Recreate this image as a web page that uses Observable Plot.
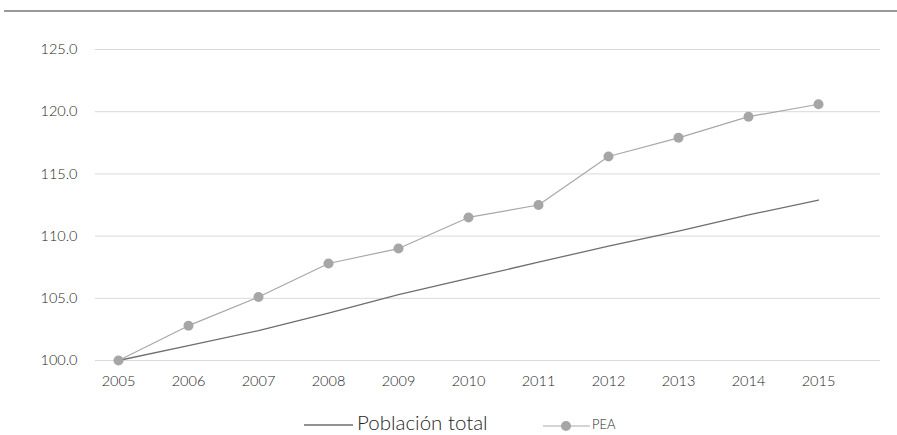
<!DOCTYPE html>
<html>
<head>
<meta charset="utf-8">
<script src="https://cdn.jsdelivr.net/npm/d3@7"></script>
<script src="https://cdn.jsdelivr.net/npm/@observablehq/plot@0.6"></script>
<style>
  html, body { margin: 0; padding: 0; background: #fff; }
  body { width: 897px; height: 435px; overflow: hidden; font-family: Lato, "Open Sans", sans-serif; font-weight: 300; }
  #topline { margin: 10px 0 0 4px; border-top: 2px solid #999; height: 0; }
  #legend { position: relative; height: 45px; }
  .leg { position: absolute; color: #262626; }
  .leg svg { position: absolute; left: 0; top: 0; }
  .leg span { position: absolute; white-space: nowrap; line-height: 1; }
</style>
</head>
<body>
<div id="topline"></div>
<div id="chart"></div>
<div id="legend">
  <div class="leg" style="left:304px; top:25px;">
    <svg width="50" height="20"><line x1="0" x2="49" y1="10" y2="10" stroke="#6e6e6e" stroke-width="1.3"/></svg>
    <span id="lab1" style="font-size:20.5px; left:53px; top:-3px;"></span>
  </div>
  <div class="leg" style="left:543px; top:26px;">
    <svg width="48" height="20"><line x1="0" x2="47" y1="10" y2="10" stroke="#a8a8a8" stroke-width="1.2"/><circle cx="23" cy="10" r="5" fill="#a6a6a8"/></svg>
    <span id="lab2" style="font-size:13px; left:49px; top:2px;"></span>
  </div>
</div>
<script>
const years = [2005, 2006, 2007, 2008, 2009, 2010, 2011, 2012, 2013, 2014, 2015];
const poblacionTotal = [100.0, 101.2, 102.4, 103.8, 105.3, 106.6, 107.9, 109.2, 110.4, 111.7, 112.9];
const pea = [100.0, 102.8, 105.1, 107.8, 109.0, 111.5, 112.5, 116.4, 117.9, 119.6, 120.6];
const yTicks = [100, 105, 110, 115, 120, 125];
const seriesNames = ["Población total", "PEA"];

document.getElementById("lab1").textContent = seriesNames[0];
document.getElementById("lab2").textContent = seriesNames[1];

const totalData = years.map((y, i) => ({year: y, value: poblacionTotal[i]}));
const peaData = years.map((y, i) => ({year: y, value: pea[i]}));

const chart = Plot.plot({
  width: 897,
  height: 378,
  marginLeft: 95,
  marginRight: 17,
  marginTop: 37,
  marginBottom: 30,
  style: {fontFamily: "Lato, 'Open Sans', sans-serif", fontWeight: 300, fontSize: "14.5px", color: "#262626", background: "#fff"},
  x: {type: "linear", domain: [2005, 2015], insetLeft: 23, insetRight: 62, ticks: years, tickFormat: d => String(d), tickSize: 0, tickPadding: 15, label: null},
  y: {domain: [100, 125], ticks: yTicks, tickFormat: d => d.toFixed(1), tickSize: 0, tickPadding: 18, label: null},
  marks: [
    Plot.ruleY(yTicks, {stroke: "#d9d9d9", strokeWidth: 1}),
    Plot.line(totalData, {x: "year", y: "value", stroke: "#6e6e6e", strokeWidth: 1.3}),
    Plot.line(peaData, {x: "year", y: "value", stroke: "#a8a8a8", strokeWidth: 1.2}),
    Plot.dot(peaData, {x: "year", y: "value", r: 5, fill: "#a6a6a8", stroke: "none"})
  ]
});
document.getElementById("chart").appendChild(chart);
</script>
</body>
</html>
